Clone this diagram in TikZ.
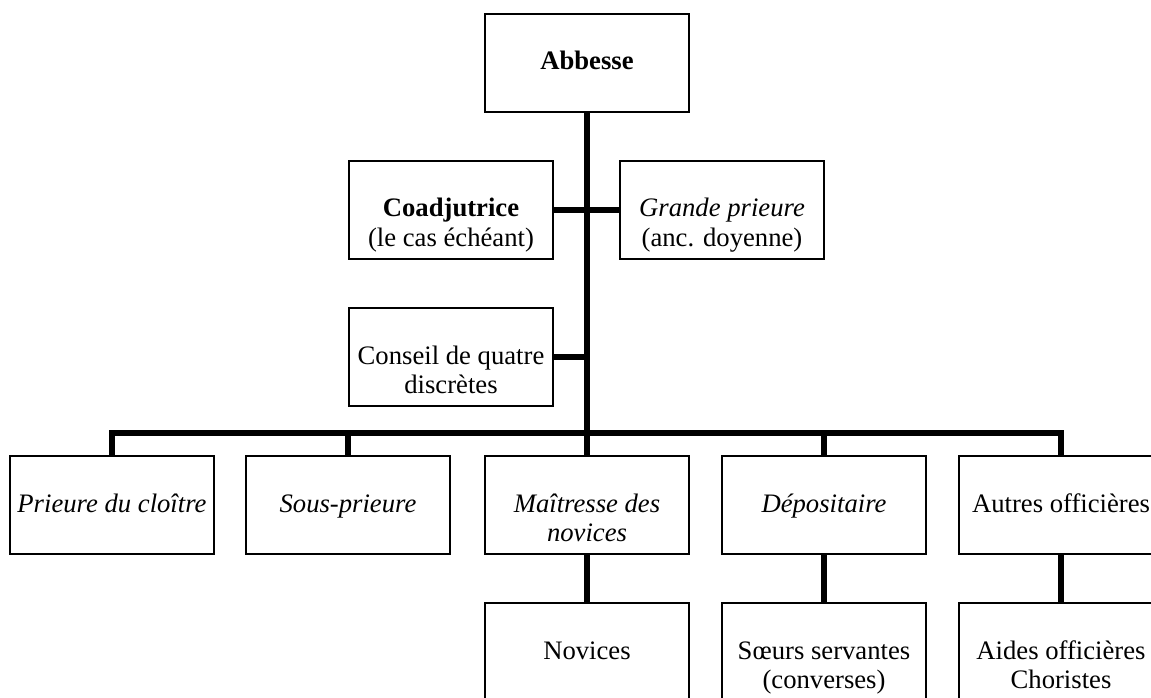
\documentclass[tikz,border=0pt]{standalone}
\usepackage{fontspec}
\setmainfont{Liberation Serif}
\begin{document}
\begin{tikzpicture}[x=0.75pt,y=0.75pt,yscale=-1,xscale=1,
		box/.style={draw, line width=1pt, minimum width=153pt, minimum height=73.5pt, inner sep=0pt, align=center, text height=13pt, text depth=2.5pt, font=\fontsize{20}{22}\selectfont},
		twoline/.style={box, text height=57pt},
		link/.style={line width=4.2pt, line join=miter}]
		\clip (0,0) rectangle (1151,698);
		
		%Top boxes
		\node [box] (abbesse) at (587,63) {\textbf{Abbesse}};
		\node [twoline] (coad) at (451,210) {\textbf{Coadjutrice}\\(le cas échéant)};
		\node [twoline] (grande) at (722,210) {\textit{Grande prieure}\\(anc. doyenne)};
		\node [twoline] (conseil) at (451,357) {Conseil de quatre\\discrètes};
		%Officers row
		\node [box] (prieure) at (112,505) {\textit{Prieure du cloître}};
		\node [box] (sous) at (348,505) {\textit{Sous-prieure}};
		\node [twoline] (maitresse) at (587,505) {\textit{Maîtresse des}\\\textit{novices}};
		\node [box] (depositaire) at (824,505) {\textit{Dépositaire}};
		\node [box] (autres) at (1061,505) {Autres officières};
		%Bottom row
		\node [box] (novices) at (587,652) {Novices};
		\node [twoline] (soeurs) at (824,652) {Sœurs servantes\\(converses)};
		\node [twoline] (aides) at (1061,652) {Aides officières\\Choristes};
		
		%Trunk and side links
		\coordinate (bus) at (587,433);
		\draw [link] (abbesse.south) -- (bus);
		\draw [link] (coad.east) -- (grande.west);
		\draw [link] (conseil.east) -- (conseil.east -| bus);
		%Bus to officers
		\foreach \n in {prieure,sous,maitresse,depositaire,autres}
			\draw [link] (\n.north) |- (bus);
		%Officers to bottom row
		\draw [link] (maitresse.south) -- (novices.north);
		\draw [link] (depositaire.south) -- (soeurs.north);
		\draw [link] (autres.south) -- (aides.north);
	\end{tikzpicture}
\end{document}
